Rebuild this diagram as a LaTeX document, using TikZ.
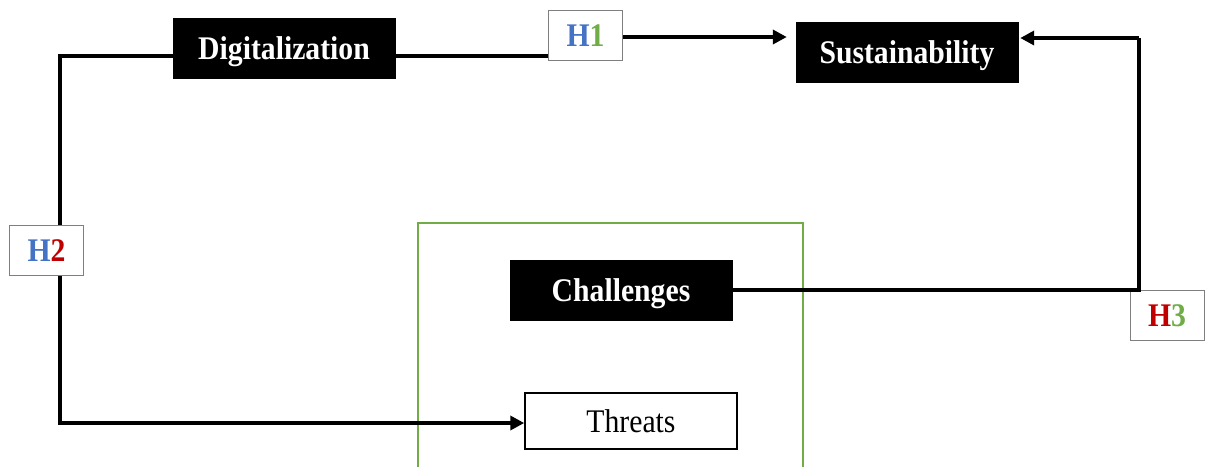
\documentclass[tikz,border=0pt]{standalone}
\usepackage{fontspec}
\setmainfont{Liberation Serif}[FakeStretch=0.9]
\usetikzlibrary{arrows.meta}
\definecolor{hblue}{HTML}{4472C4}
\definecolor{hgreen}{HTML}{70AD47}
\definecolor{hred}{HTML}{C00000}
\definecolor{hgray}{HTML}{7F7F7F}
\tikzset{
  txt/.style={font=\fontsize{33}{38}\selectfont,text height=22pt,text depth=0pt},
  blackbox/.style={txt,fill=black,draw=black,text=white,inner sep=0pt,minimum width=222pt,minimum height=60pt,font=\fontsize{33}{38}\selectfont\bfseries},
  whitebox/.style={txt,fill=white,draw=black,line width=1.5pt,inner sep=0pt,minimum width=212pt,minimum height=56pt},
  hbox/.style={txt,fill=white,draw=hgray,line width=1pt,inner sep=0pt,minimum width=74pt,minimum height=50pt,font=\fontsize{33}{38}\selectfont\bfseries},
  conn/.style={line width=3.5pt,line join=miter},
  arr/.style={conn,-{Triangle[length=14pt,width=14pt]}},
}
\begin{document}
\begin{tikzpicture}[x=1pt,y=-1pt]
\useasboundingbox (0,0) rectangle (1210,467);
% group frame
\draw[hgreen,line width=1.5pt] (418,467) -- (418,223) -- (803,223) -- (803,467);
% nodes
\node[blackbox] (dig) at (284,48) {Digitalization};
\node[blackbox] (sus) at (907,52) {Sustainability};
\node[blackbox] (chal) at (621,290) {Challenges};
\node[whitebox] (thr) at (631,421) {Threats};
\node[hbox] (h1) at (585.5,35.5) {\textcolor{hblue}{H}\textcolor{hgreen}{1}};
\node[hbox] (h2) at (46.5,250.5) {\textcolor{hblue}{H}\textcolor{hred}{2}};
\node[hbox] (h3) at (1167,315) {\textcolor{hred}{H}\textcolor{hgreen}{3}};
\coordinate (cl) at (60,56);
\coordinate (cb) at (60,423);
\coordinate (cr) at (1139,290);
% connectors
\draw[conn] ([yshift=-8pt]dig.west) -- (cl) -- (cl |- h2.north);
\draw[arr] (cl |- h2.south) -- (cb) -- (cb -| thr.west);
\draw[conn] ([yshift=-8pt]dig.east) -- ([yshift=-8pt]dig.east -| h1.west);
\draw[arr,shorten >=9pt] ([yshift=-1.5pt]h1.east) -- ([yshift=-1.5pt]h1.east -| sus.west);
\draw[conn] (chal.east) -- (cr) -- ([yshift=14pt]sus.east -| cr);
\draw[arr,shorten >=2pt] ([yshift=14pt]sus.east -| cr) -- ([yshift=14pt]sus.east);
\end{tikzpicture}
\end{document}
